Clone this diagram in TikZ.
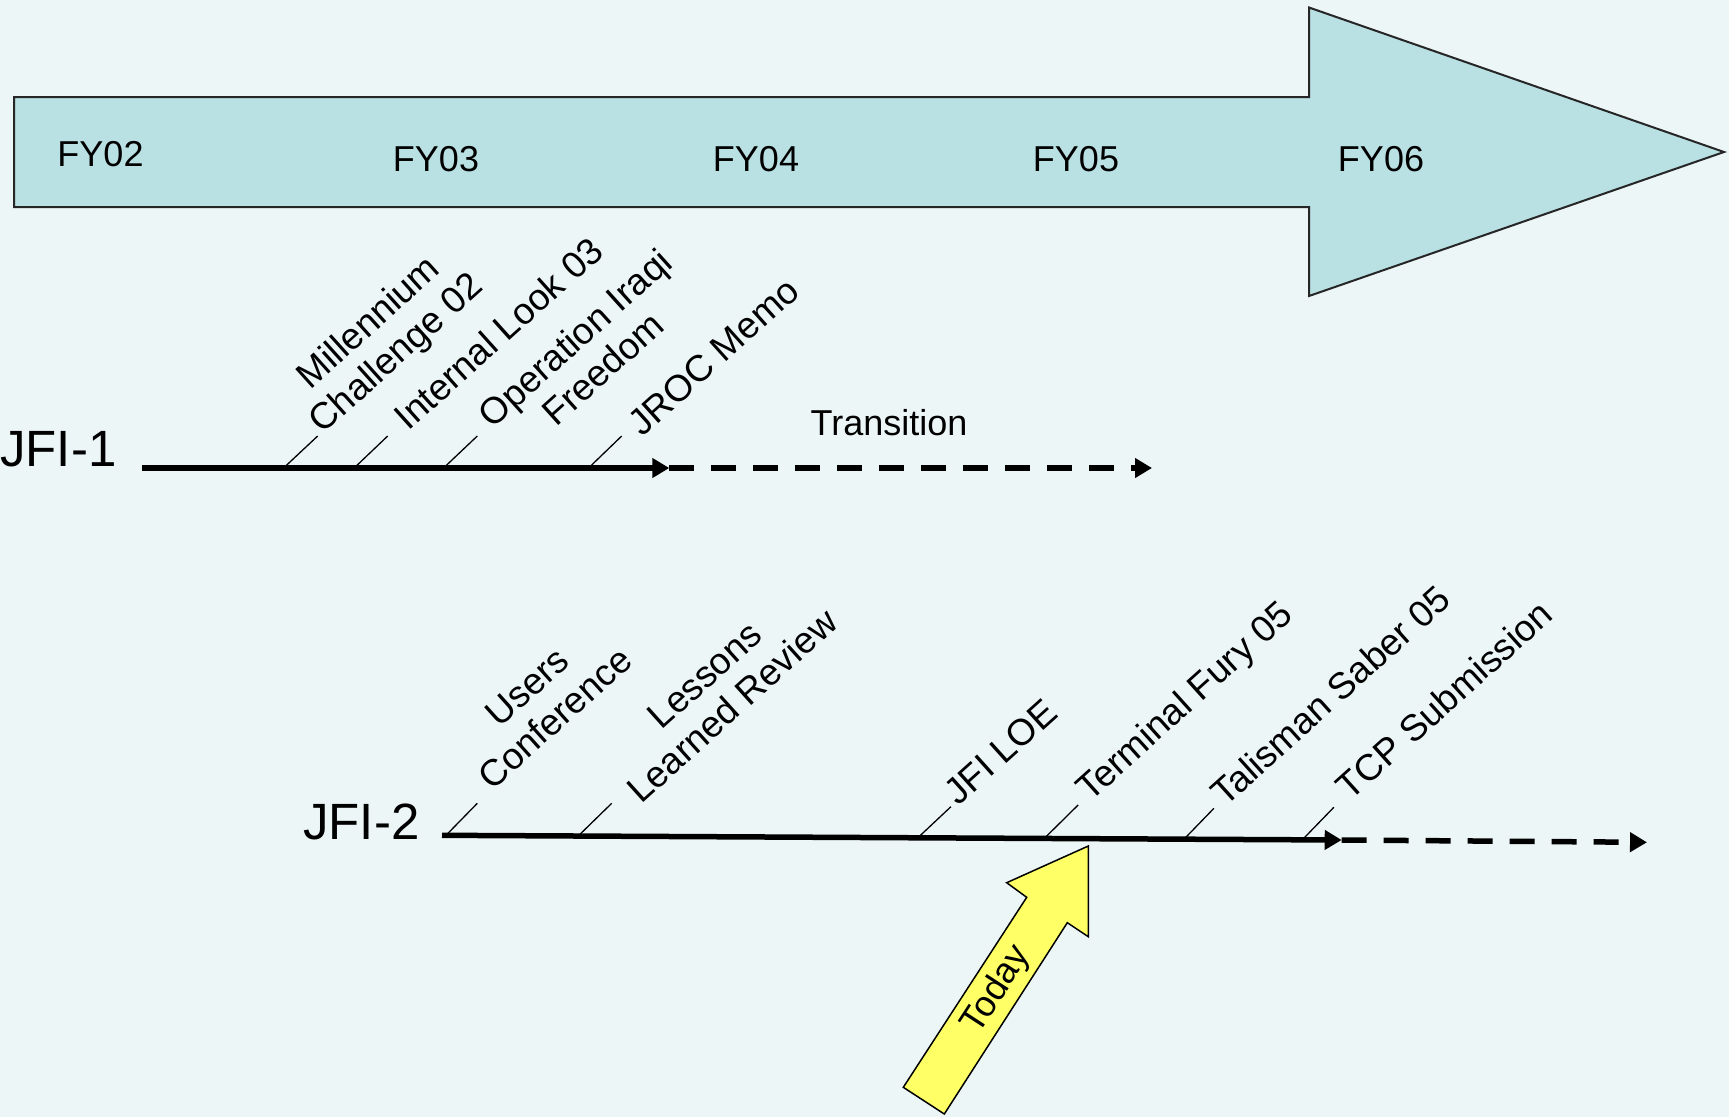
\documentclass[tikz,border=0pt]{standalone}
\usepackage{fontspec}
\setmainfont{Liberation Sans}
\usetikzlibrary{arrows.meta}
\definecolor{bgc}{HTML}{EDF6F7}
\definecolor{arrowc}{HTML}{B9E0E3}
\definecolor{todayc}{HTML}{FFFF66}
\begin{document}
\begin{tikzpicture}[x=1pt,y=-1pt,
  lbl/.style={font=\fontsize{37}{41.5}\selectfont, inner sep=0pt, align=center, rotate=42},
  fy/.style={font=\fontsize{36}{41}\selectfont, inner sep=0pt, anchor=base},
  jfi/.style={font=\fontsize{51}{60}\selectfont, inner sep=0pt, anchor=base west},
  tickline/.style={line width=1.3pt},
  mainline/.style={line width=5.5pt, -{Triangle[length=17pt,width=19pt]}},
  dashline/.style={line width=5.5pt, dash pattern=on 25pt off 17pt, -{Triangle[length=17pt,width=19pt]}},
]
\useasboundingbox (0,0) rectangle (1729,1117);
\fill[bgc] (0,0) rectangle (1729,1117);

% big timeline arrow
\draw[fill=arrowc, line width=2pt, draw=black!85] (14,97) -- (1309,97) -- (1309,7.5) -- (1724,152) -- (1309,296) -- (1309,207) -- (14,207) -- cycle;

\node[fy] (fy02) at (100.5,166.7) {FY02};
\node[fy] (fy03) at (436,171.7) {FY03};
\node[fy] (fy04) at (756,171.7) {FY04};
\node[fy] (fy05) at (1076,171.7) {FY05};
\node[fy] (fy06) at (1381,171.7) {FY06};

% JFI-1
\node[jfi] (jfi1) at (0,466.7) {JFI-1};
\coordinate (a1s) at (142,468);
\coordinate (a1m) at (669.3,468);
\coordinate (a1e) at (1152,468);
\draw[mainline] (a1s) -- (a1m);
\draw[dashline] (a1m) -- (a1e);
\node[fy] (trans) at (889,435) {Transition};

\coordinate (t1b) at (284.6,467); \coordinate (t1t) at (317.7,436);
\coordinate (t2b) at (355.2,467); \coordinate (t2t) at (387.7,436);
\coordinate (t3b) at (444.6,467); \coordinate (t3t) at (477.3,436);
\coordinate (t4b) at (589.6,467); \coordinate (t4t) at (621.7,436);
\draw[tickline] (t1b) -- (t1t);
\draw[tickline] (t2b) -- (t2t);
\draw[tickline] (t3b) -- (t3t);
\draw[tickline] (t4b) -- (t4t);

\node[lbl] (l1) at (383.7,339.5) {Millennium\\Challenge 02};
\node[lbl] (l2) at (498.4,333.2) {Internal Look 03};
\node[lbl] (l3) at (588.6,353.05) {Operation Iraqi\\Freedom};
\node[lbl] (l4) at (713.4,356.5) {JROC Memo};

% JFI-2
\node[jfi] (jfi2) at (303,839.5) {JFI-2};
\coordinate (a2s) at (442,835.3);
\coordinate (a2m) at (1341.7,840);
\coordinate (a2e) at (1647,842.3);
\draw[mainline] (a2s) -- (a2m);
\draw[dashline] (a2m) -- (a2e);

\coordinate (t5b) at (445.8,835.5);  \coordinate (t5t) at (477.3,803.3);
\coordinate (t6b) at (578.5,835.7);  \coordinate (t6t) at (611.7,803.3);
\coordinate (t7b) at (918,837.6);    \coordinate (t7t) at (950.9,806.7);
\coordinate (t8b) at (1044.2,838.5); \coordinate (t8t) at (1078.1,805);
\coordinate (t9b) at (1184,839.2);   \coordinate (t9t) at (1213.9,808.3);
\coordinate (t10b) at (1302.3,839.8); \coordinate (t10t) at (1333.8,807.3);
\foreach \i in {5,...,10} {\draw[tickline] (t\i b) -- (t\i t);}

\node[lbl] (l5) at (541.2,702.55) {Users\\Conference};
\node[lbl] (l6) at (718.4,690.65) {Lessons\\Learned Review};
\node[lbl] (l7) at (1000.4,751.6) {JFI LOE};
\node[lbl] (l8) at (1186.3,703.2) {Terminal Fury 05};
\node[lbl] (l9) at (1330.5,695.4) {Talisman Saber 05};
\node[lbl] (l10) at (1444,699.9) {TCP Submission};

% Today arrow
\draw[fill=todayc, line width=1.5pt, line join=miter] (1088.3,846) -- (1088.3,936.7) -- (1067.3,922.7) -- (944.3,1114) -- (903.3,1087.3) -- (1026.7,897.3) -- (1006.7,882.7) -- cycle;
\node[font=\fontsize{36}{41}\selectfont, inner sep=0pt, rotate=57] (today) at (996.7,990) {Today};
\end{tikzpicture}
\end{document}
